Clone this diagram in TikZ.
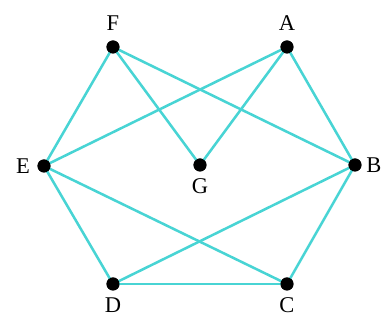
\documentclass[tikz,border=0pt]{standalone}
\usepackage{tikz}
\usepackage{xcolor}
\usepackage{fontspec}
\setmainfont{Liberation Serif}
\usetikzlibrary{positioning}
\definecolor{EdgeCyan}{RGB}{72,212,212}
\tikzset{
  vtx/.style={circle,fill=black,inner sep=0pt,minimum size=13*0.025cm},
  vlab/.style={font=\fontsize{16}{18}\selectfont,inner sep=1pt},
  edge/.style={EdgeCyan,line width=1.8pt},
}
\begin{document}
\begin{tikzpicture}[x=0.025cm,y=-0.025cm]
        \useasboundingbox (0,0) rectangle (384,320);
        \node[vtx,label={[vlab,label distance=6pt]above:F}] (F) at (113,47) {};
        \node[vtx,label={[vlab,label distance=6pt]above:A}] (A) at (287,47) {};
        \node[vtx,label={[vlab,label distance=4pt]left:E}] (E) at (44,166) {};
        \node[vtx,label={[vlab,label distance=4pt]below:G}] (G) at (200,165) {};
        \node[vtx,label={[vlab,label distance=2pt]right:B}] (B) at (355,165) {};
        \node[vtx,label={[vlab,label distance=4pt]below:D}] (D) at (113,284) {};
        \node[vtx,label={[vlab,label distance=4pt]below:C}] (C) at (287,284) {};
        \foreach \u/\v in {F/E,F/G,F/B,A/E,A/G,A/B,E/D,E/C,B/D,B/C,D/C}
          \draw[edge] (\u.center)--(\v.center);
        \foreach \n in {F,A,E,G,B,D,C}
          \fill (\n) circle (6.5*0.025cm);
      \end{tikzpicture}
\end{document}
